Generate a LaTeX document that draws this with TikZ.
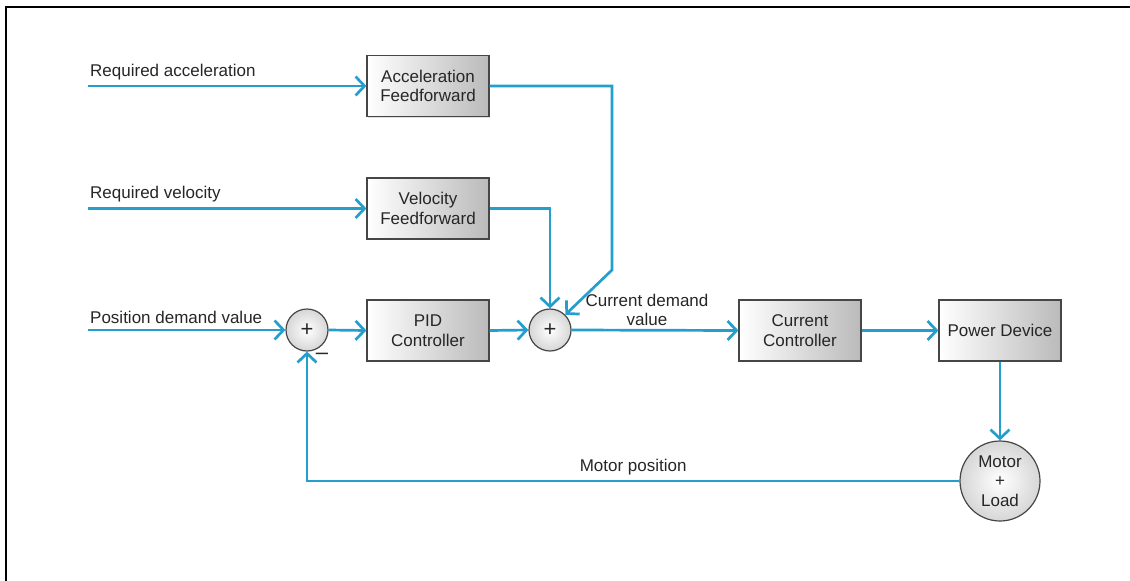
\documentclass[tikz,border=0pt]{standalone}
\usepackage{fontspec}
\setmainfont{Liberation Sans}
\usetikzlibrary{arrows.meta,shadows}
\definecolor{flow}{RGB}{36,158,204}
\definecolor{edge}{RGB}{70,70,70}
\begin{document}
\begin{tikzpicture}[x=1pt,y=-1pt,
  txt/.style={font=\fontsize{17}{19.5}\selectfont, text=black!85},
  block/.style={txt, draw=edge, line width=1.2pt, minimum width=122pt, minimum height=61pt,
    align=center, inner sep=0pt, left color=white, right color=black!27,
    drop shadow={shadow xshift=1.2pt, shadow yshift=-1.2pt, opacity=0.25}},
  sumnode/.style={txt, circle, draw=edge, line width=1.2pt, minimum size=42pt, inner sep=0pt,
    inner color=white, outer color=black!16},
  bignode/.style={sumnode, minimum size=80pt, align=center},
  flowline/.style={draw=flow, line width=2.7pt, line join=miter,
    -{Straight Barb[length=9pt,width=19pt]}},
  lbl/.style={txt, inner sep=0pt}
]
\useasboundingbox (0,0) rectangle (1130,581);
% outer frame
\draw[line width=2pt, black] (5.5,585) -- (5.5,6.5) -- (1135,6.5);

% blocks
\node[block] (acc) at (428,86) {Acceleration\\Feedforward};
\node[block] (vel) at (428,208.5) {Velocity\\Feedforward};
\node[block] (pid) at (428,330.5) {PID\\Controller};
\node[block] (cur) at (800,330.5) {Current\\Controller};
\node[block] (pwr) at (1000,330.5) {Power Device};
\node[sumnode] (s1) at (307,330) {\fontsize{22}{22}\selectfont +};
\node[sumnode] (s2) at (550,330) {\fontsize{22}{22}\selectfont +};
\node[bignode] (motor) at (1000,481) {Motor\\+\\Load};

% inputs
\coordinate (ina) at (88,86);
\coordinate (inv) at (88,208.5);
\coordinate (inp) at (88,330);
\draw[flowline] (ina) -- (acc.west);
\node[lbl, anchor=south west] at (90,80) {Required acceleration};
\draw[flowline] (inv) -- (vel.west);
\node[lbl, anchor=south west] at (90,202.5) {Required velocity};
\draw[flowline] (inp) -- (s1.west);
\node[lbl, anchor=south west] at (90,324) {Position demand value};

% feedforward paths into the current summing junction
\coordinate (abend) at (612,270);
\draw[flowline] (acc.east) -| (abend) -- (s2.north east);
\draw[flowline] (vel.east) -| (s2.north);

% forward path
\draw[flowline] (s1.east) -- (pid.west);
\draw[flowline] (pid.east) -- (s2.west);
\draw[flowline] (s2.east) -- (cur.west);
\node[lbl, align=center] at (647,310) {Current demand\\value};
\draw[flowline] (cur.east) -- (pwr.west);
\draw[flowline] (pwr.south) -- (motor.north);

% position feedback
\draw[flowline] (motor.west) -| node[lbl, pos=0.25, above=5pt] {Motor position} (s1.south);
\node[lbl] at (322,356) {\fontsize{22}{22}\selectfont –};
\end{tikzpicture}
\end{document}
